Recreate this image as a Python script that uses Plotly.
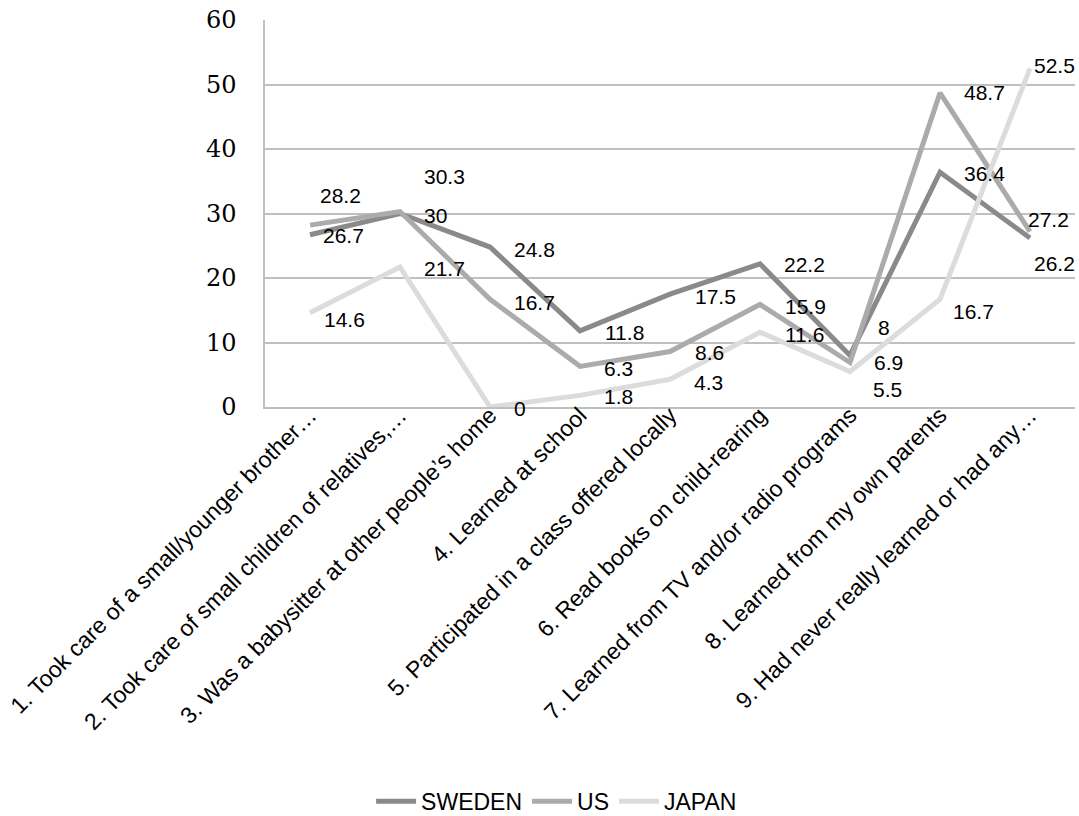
import plotly.graph_objects as go

categories = [
    "1. Took care of a small/younger brother…",
    "2. Took care of small children of relatives,…",
    "3. Was a babysitter at other people’s home",
    "4. Learned at school",
    "5. Participated in a class offered locally",
    "6. Read books on child-rearing",
    "7. Learned from TV and/or radio programs",
    "8. Learned from my own parents",
    "9. Had never really learned or had any…",
]
sweden = [26.7, 30, 24.8, 11.8, 17.5, 22.2, 8, 36.4, 26.2]
us = [28.2, 30.3, 16.7, 6.3, 8.6, 15.9, 6.9, 48.7, 27.2]
japan = [14.6, 21.7, 0, 1.8, 4.3, 11.6, 5.5, 16.7, 52.5]
y_ticks = [0, 10, 20, 30, 40, 50, 60]

series = [
    ("SWEDEN", sweden, "#8a8a8a"),
    ("US", us, "#ababab"),
    ("JAPAN", japan, "#dcdcdc"),
]

# label offsets in pixels (style only): (xshift to left edge, yshift up)
label_offsets = {
    "SWEDEN": [(12, -1), (23, -2), (23, -2), (24, -2), (24, -2), (23, -1), (27, 28), (23, -1), (3, -25)],
    "US": [(9, 30), (23, 35), (23, -3), (23, -2), (24, -1), (24, -2), (23, 0), (23, 0), (-3, 12)],
    "JAPAN": [(13, -7), (23, -1), (23, -1), (23, -1), (23, -3), (24, -2), (22, -18), (12, -12), (3, 3)],
}

LABEL_FONT = dict(family="Liberation Sans, Arial, sans-serif", size=21, color="#000000")

fig = go.Figure()
annotations = []
for name, vals, color in series:
    fig.add_trace(go.Scatter(
        x=categories, y=vals, name=name, mode="lines",
        line=dict(color=color, width=5),
        cliponaxis=False,
    ))
    for c, v, (dx, dy) in zip(categories, vals, label_offsets[name]):
        annotations.append(dict(
            x=c, y=v, xref="x", yref="y", text=f"{v:g}", showarrow=False,
            xanchor="left", yanchor="middle", xshift=dx, yshift=dy,
            font=LABEL_FONT, borderpad=0,
        ))

fig.update_layout(
    width=1079, height=816,
    margin=dict(l=265, r=4, t=20, b=409),
    paper_bgcolor="white", plot_bgcolor="white",
    annotations=annotations,
    showlegend=True,
    legend=dict(
        orientation="h", x=0.36, xanchor="center",
        yref="container", y=0.018, yanchor="middle",
        font=dict(family="Liberation Sans, Arial, sans-serif", size=23, color="#000000"),
        itemwidth=40,
    ),
    xaxis=dict(
        type="category", range=[-0.5, 8.5], tickangle=-45, showgrid=False,
        showline=True, linecolor="#bfbfbf", linewidth=1.5,
        ticks="", ticklabelstandoff=-16, automargin=False,
        tickfont=dict(family="Liberation Sans, Arial, sans-serif", size=23, color="#000000"),
    ),
    yaxis=dict(
        range=[0, 60], tickvals=y_ticks, showgrid=True,
        gridcolor="#c0c0c0", gridwidth=1.5,
        showline=True, linecolor="#bfbfbf", linewidth=1.5,
        zeroline=False, ticks="", ticklabelstandoff=22, automargin=False,
        tickfont=dict(family="DejaVu Serif, serif", size=24, color="#000000"),
    ),
)

fig.write_html("out.html", config={"displayModeBar": False},
               post_script="document.body.style.margin='0';")
